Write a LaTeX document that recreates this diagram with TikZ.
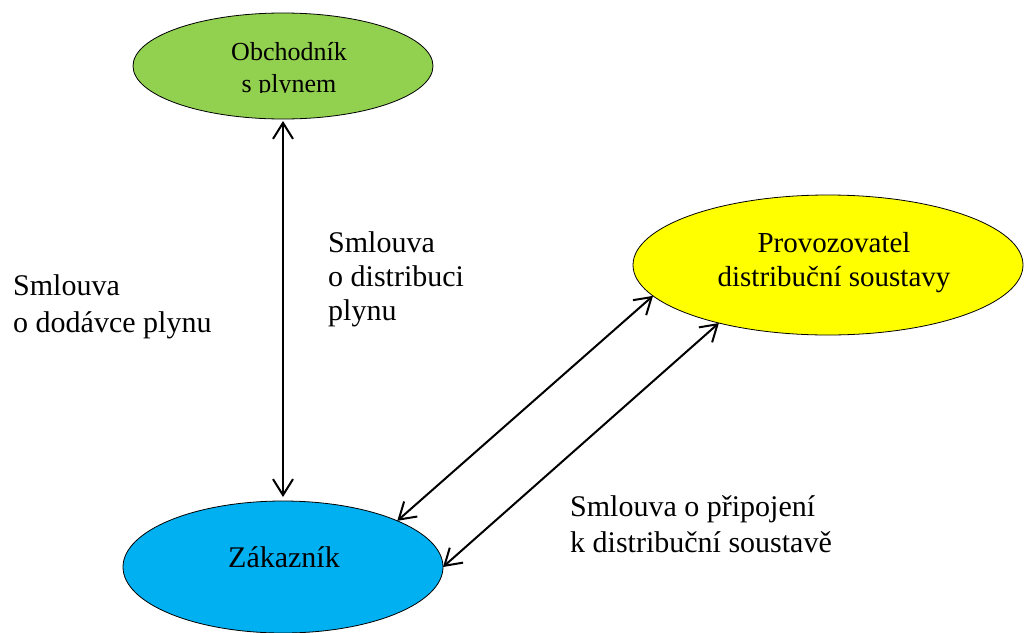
\documentclass[tikz,border=0pt]{standalone}
\usepackage{fontspec}
\setmainfont{Liberation Serif}
\usetikzlibrary{shapes.geometric,arrows.meta}

\definecolor{tradergreen}{HTML}{92D050}
\definecolor{operatoryellow}{HTML}{FFFF00}
\definecolor{customerblue}{HTML}{00B0F0}

\tikzset{
  party/.style={ellipse, draw=black, line width=0.8pt, inner sep=0pt, outer sep=0pt},
  partytext/.style={inner sep=0pt, align=center, anchor=base, font=\fontsize{29}{34}\selectfont},
  contract/.style={inner sep=0pt, align=left, anchor=base west},
  link/.style={line width=2pt, {Straight Barb[length=16pt,width=20pt]}-{Straight Barb[length=16pt,width=20pt]}}
}

\begin{document}
\begin{tikzpicture}[x=1pt,y=-1pt]
  \clip (0,0) rectangle (1024,632);
  \fill[white] (0,0) rectangle (1024,632);

  % the three parties
  \node[party, fill=tradergreen, minimum width=300pt, minimum height=106pt] (trader) at (283,66) {};
  \node[party, fill=operatoryellow, minimum width=390pt, minimum height=140pt] (operator) at (828,265) {};
  \node[party, fill=customerblue, minimum width=320pt, minimum height=132pt] (customer) at (283,567) {};

  % party names (the base anchor sits on the last line)
  \begin{scope}
    \clip (100,0) rectangle (470,92.5);
    \node[partytext, font=\fontsize{26}{32}\selectfont] (tradername) at (289,92) {Obchodník\\s plynem};
  \end{scope}
  \node[partytext] (operatorname) at (834,286) {Provozovatel\\distribuční soustavy};
  \node[partytext, font=\fontsize{30}{36}\selectfont] (customername) at (284,567) {Zákazník};

  % contracts between the parties
  \path (trader.south) ++(0,2) coordinate (ts);
  \path (customer.north) ++(0,-4) coordinate (cn);
  \draw[link] (ts) -- (cn);
  \draw[link] (customer.22.6) -- (operator.190.9);
  \draw[link] (customer.east) -- (operator.208.2);

  % contract labels
  \node[contract, font=\fontsize{30}{37}\selectfont] (supply) at (13,332) {Smlouva\\o dodávce plynu};
  \node[contract, font=\fontsize{30}{34}\selectfont] (distribution) at (328,320) {Smlouva\\o distribuci\\plynu};
  \node[contract, font=\fontsize{30}{36}\selectfont] (connection) at (570,552) {Smlouva o připojení\\k distribuční soustavě};
\end{tikzpicture}
\end{document}
